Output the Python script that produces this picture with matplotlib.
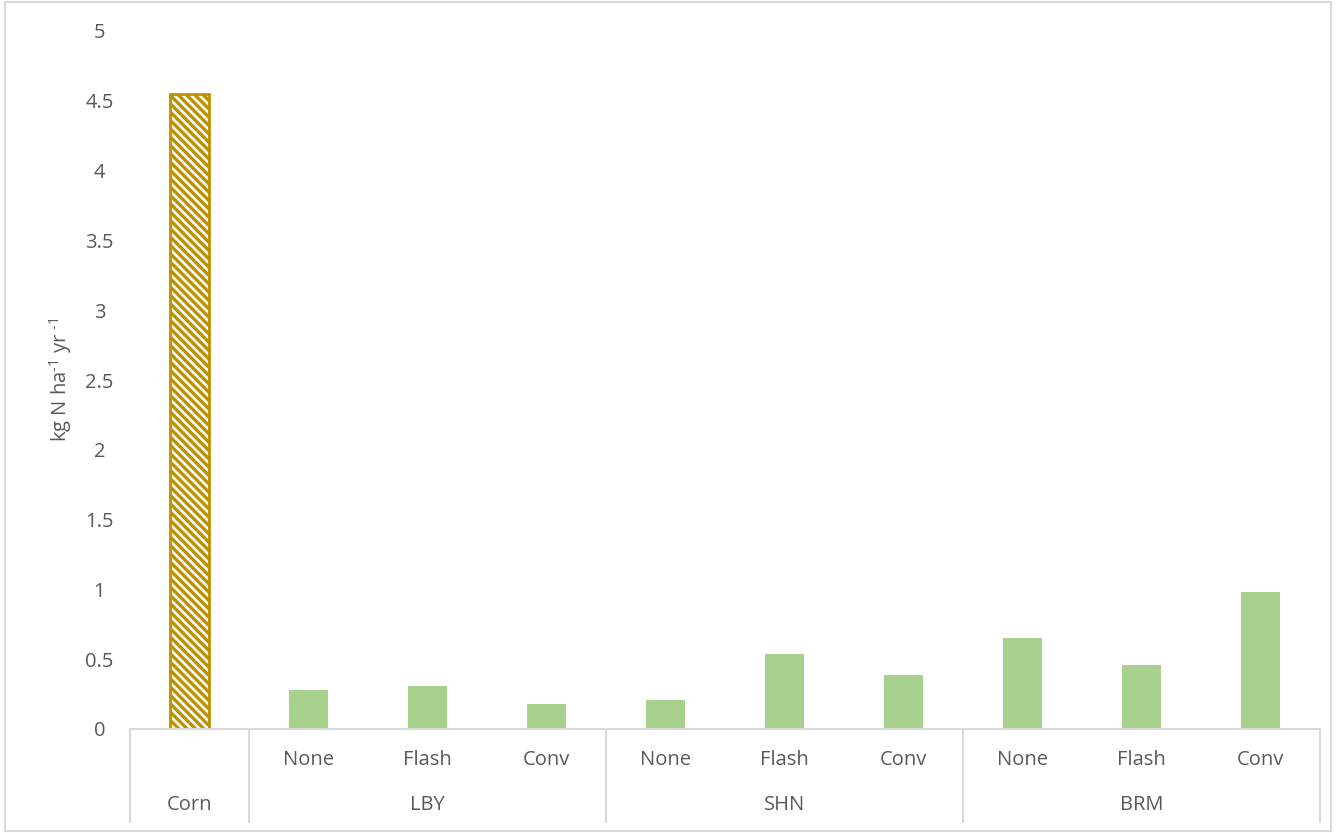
import matplotlib.pyplot as plt
from matplotlib.patches import Rectangle
import matplotlib.transforms as mtransforms

# nitrogen values per treatment, kg N / ha / yr
sites = ["Corn", "LBY", "SHN", "BRM"]
treatments = ["None", "Flash", "Conv"]
corn_value = 4.55
site_values = {
    "LBY": [0.28, 0.31, 0.18],
    "SHN": [0.21, 0.54, 0.39],
    "BRM": [0.65, 0.46, 0.98],
}
y_ticks = [0, 0.5, 1, 1.5, 2, 2.5, 3, 3.5, 4, 4.5, 5]

plt.rcParams['font.family'] = ['Open Sans', 'DejaVu Sans']
plt.rcParams['mathtext.fontset'] = 'custom'
plt.rcParams['mathtext.rm'] = 'Open Sans'
text_col = '#595959'
line_col = '#D9D9D9'
green = '#A9D18E'
gold = '#BF9000'
fs = 14.5

fig = plt.figure(figsize=(13.36, 8.33), dpi=100)
ax = fig.add_axes([130 / 1336, 104 / 833, 1190 / 1336, 698 / 833])

# corn bar, hatched
plt.rcParams['hatch.linewidth'] = 2.4
plt.rcParams['hatch.color'] = gold
ax.bar(0, corn_value, width=0.33, facecolor='white', edgecolor=gold,
       hatch='\\\\\\\\', linewidth=2)

# site bars
xs, vals = [], []
pos = 1
for s in sites[1:]:
    for v in site_values[s]:
        xs.append(pos)
        vals.append(v)
        pos += 1
ax.bar(xs, vals, width=0.33, color=green)

ax.set_xlim(-0.5, 9.5)
ax.set_ylim(0, 5)
ax.set_yticks(y_ticks)
ax.set_yticklabels([f"{t:g}" for t in y_ticks], color=text_col, fontsize=fs,
                   ha='center')
ax.tick_params(axis='y', length=0, pad=22)
ax.set_xticks([])
for side in ['top', 'right', 'left']:
    ax.spines[side].set_visible(False)
ax.spines['bottom'].set_color(line_col)
ax.spines['bottom'].set_linewidth(1.5)

ax.set_ylabel(r"kg N ha$^{\text{-1}}$ yr $^{\text{-1}}$", color=text_col,
              fontsize=fs, labelpad=8)

# two-level category axis
trans = mtransforms.blended_transform_factory(ax.transData, ax.transAxes)
row1, row2, bottom = -0.0444, -0.109, -0.133
for x in xs:
    ax.text(x, row1, treatments[(x - 1) % 3], transform=trans, ha='center',
            va='center', color=text_col, fontsize=fs)
ax.text(0, row2, "Corn", transform=trans, ha='center', va='center',
        color=text_col, fontsize=fs)
for i, s in enumerate(sites[1:]):
    ax.text(2 + 3 * i, row2, s, transform=trans, ha='center', va='center',
            color=text_col, fontsize=fs)
for xb in [-0.5, 0.5, 3.5, 6.5, 9.5]:
    ax.plot([xb, xb], [0, bottom], transform=trans, color=line_col, lw=1.5,
            clip_on=False)

# chart border
fig.patches.append(Rectangle((5 / 1336, 2 / 833), 1326 / 1336, 829 / 833,
                             transform=fig.transFigure, fill=False,
                             edgecolor=line_col, lw=1.5))

fig.savefig('out.png', dpi=100)
